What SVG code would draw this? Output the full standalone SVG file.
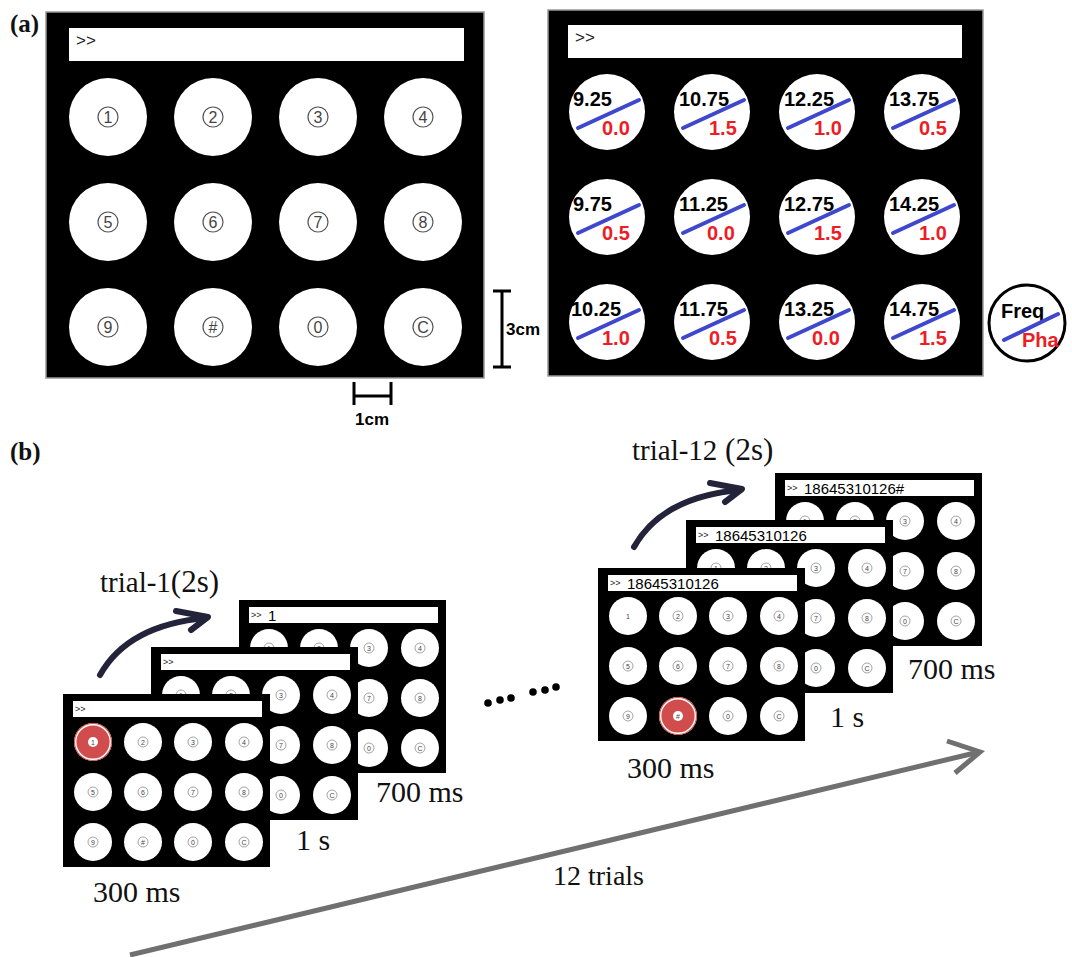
<svg xmlns="http://www.w3.org/2000/svg" xmlns:xlink="http://www.w3.org/1999/xlink" width="1072" height="957" viewBox="0 0 1072 957">
<style>
.panel{fill:#000;stroke:#999;stroke-width:1.5}
.bar{fill:#fff}
.bigc{fill:#fff}
.ring{fill:none;stroke:#555;stroke-width:1.2}
.dig{font-family:"Liberation Sans",Arial,sans-serif;font-size:16px;fill:#444;text-anchor:middle}
.prompt{font-family:"Liberation Sans",Arial,sans-serif;font-size:17px;fill:#222}
.freq{font-family:"Liberation Sans",Arial,sans-serif;font-weight:bold;font-size:20px;fill:#000}
.pha{font-family:"Liberation Sans",Arial,sans-serif;font-weight:bold;font-size:20px;fill:#ee1c24}
.bl{stroke:#3f48cc;stroke-width:4;stroke-linecap:round}
.lab{font-family:"Liberation Serif","Times New Roman",serif;font-weight:bold;font-size:25px;fill:#111}
.scale{stroke:#000;stroke-width:3;fill:none}
.cm{font-family:"Liberation Sans",Arial,sans-serif;font-weight:bold;font-size:17px;fill:#000}
.sl{fill:none;stroke:#666;stroke-width:0.6}
.st{font-family:"Liberation Sans",Arial,sans-serif;font-size:7px;fill:#444;text-anchor:middle}
.sp{font-family:"Liberation Sans",Arial,sans-serif;font-size:9px;fill:#222}
.sd{font-family:"Liberation Sans",Arial,sans-serif;font-size:15px;fill:#000}
.tm{font-family:"Liberation Serif","Times New Roman",serif;font-size:30px;fill:#111}
.tr{font-family:"Liberation Serif","Times New Roman",serif;fill:#111}
.carrow{fill:none;stroke:#23233a;stroke-width:6;stroke-linecap:round;stroke-linejoin:round}
.garrow{fill:none;stroke:#707070;stroke-width:5;stroke-linecap:butt;stroke-linejoin:miter}
</style>
<defs>
<g id="kp">
<rect width="207" height="173" fill="#000"/>
<rect x="10" y="7" width="189" height="16" fill="#fff"/>
<g fill="#fff">
<circle cx="30" cy="48" r="19"/><circle cx="80" cy="48" r="19"/><circle cx="130" cy="48" r="19"/><circle cx="181" cy="48" r="19"/>
<circle cx="30" cy="98" r="19"/><circle cx="80" cy="98" r="19"/><circle cx="130" cy="98" r="19"/><circle cx="181" cy="98" r="19"/>
<circle cx="30" cy="148" r="19"/><circle cx="80" cy="148" r="19"/><circle cx="130" cy="148" r="19"/><circle cx="181" cy="148" r="19"/>
</g>
<g class="sl">
<circle cx="30" cy="48" r="5"/><circle cx="80" cy="48" r="5"/><circle cx="130" cy="48" r="5"/><circle cx="181" cy="48" r="5"/>
<circle cx="30" cy="98" r="5"/><circle cx="80" cy="98" r="5"/><circle cx="130" cy="98" r="5"/><circle cx="181" cy="98" r="5"/>
<circle cx="30" cy="148" r="5"/><circle cx="80" cy="148" r="5"/><circle cx="130" cy="148" r="5"/><circle cx="181" cy="148" r="5"/>
</g>
<g class="st">
<text x="30" y="50.5">1</text><text x="80" y="50.5">2</text><text x="130" y="50.5">3</text><text x="181" y="50.5">4</text>
<text x="30" y="100.5">5</text><text x="80" y="100.5">6</text><text x="130" y="100.5">7</text><text x="181" y="100.5">8</text>
<text x="30" y="150.5">9</text><text x="80" y="150.5">#</text><text x="130" y="150.5">0</text><text x="181" y="150.5">C</text>
</g>
</g>
<g id="curv">
<path class="carrow" d="M0,0 Q28,-50 106,-57"/>
<polyline class="carrow" points="76,-64 108,-58 91,-45"/>
</g>
</defs>

<text class="lab" x="10" y="32">(a)</text>
<text class="lab" x="10" y="460">(b)</text>

<g id="keypad-labels">
<rect class="panel" x="46" y="12" width="438" height="366"/>
<rect class="bar" x="69" y="28" width="395" height="33"/>
<text class="prompt" x="76" y="46">&gt;&gt;</text>
<g class="bigc">
<circle cx="108" cy="117" r="39"/><circle cx="213" cy="117" r="39"/><circle cx="318" cy="117" r="39"/><circle cx="423" cy="117" r="39"/>
<circle cx="108" cy="222" r="39"/><circle cx="213" cy="222" r="39"/><circle cx="318" cy="222" r="39"/><circle cx="423" cy="222" r="39"/>
<circle cx="108" cy="327" r="39"/><circle cx="213" cy="327" r="39"/><circle cx="318" cy="327" r="39"/><circle cx="423" cy="327" r="39"/>
</g>
<g class="ring">
<circle cx="108" cy="117" r="10"/><circle cx="213" cy="117" r="10"/><circle cx="318" cy="117" r="10"/><circle cx="423" cy="117" r="10"/>
<circle cx="108" cy="222" r="10"/><circle cx="213" cy="222" r="10"/><circle cx="318" cy="222" r="10"/><circle cx="423" cy="222" r="10"/>
<circle cx="108" cy="327" r="10"/><circle cx="213" cy="327" r="10"/><circle cx="318" cy="327" r="10"/><circle cx="423" cy="327" r="10"/>
</g>
<g class="dig">
<text x="108" y="123">1</text><text x="213" y="123">2</text><text x="318" y="123">3</text><text x="423" y="123">4</text>
<text x="108" y="228">5</text><text x="213" y="228">6</text><text x="318" y="228">7</text><text x="423" y="228">8</text>
<text x="108" y="333">9</text><text x="213" y="333">#</text><text x="318" y="333">0</text><text x="423" y="333">C</text>
</g>
</g>

<g id="scale-bars">
<path class="scale" d="M502,291 V367 M493,291 H511 M493,367 H511"/>
<text class="cm" x="506" y="335">3cm</text>
<path class="scale" d="M354,396 H391 M354,382 V405 M391,382 V405"/>
<text class="cm" x="372" y="425" text-anchor="middle" font-size="16">1cm</text>
</g>

<g id="keypad-frequencies">
<rect class="panel" x="548" y="10" width="435" height="366"/>
<rect class="bar" x="568" y="25" width="394" height="33"/>
<text class="prompt" x="575" y="43">&gt;&gt;</text>
<g class="bigc">
<circle cx="607" cy="112" r="38"/><circle cx="712" cy="112" r="38"/><circle cx="817" cy="112" r="38"/><circle cx="922" cy="112" r="38"/>
<circle cx="607" cy="217" r="38"/><circle cx="712" cy="217" r="38"/><circle cx="817" cy="217" r="38"/><circle cx="922" cy="217" r="38"/>
<circle cx="607" cy="322" r="38"/><circle cx="712" cy="322" r="38"/><circle cx="817" cy="322" r="38"/><circle cx="922" cy="322" r="38"/>
</g>
<g class="bl">
<line x1="578" y1="128" x2="639" y2="100"/><line x1="683" y1="128" x2="744" y2="100"/><line x1="788" y1="128" x2="849" y2="100"/><line x1="893" y1="128" x2="954" y2="100"/>
<line x1="578" y1="233" x2="639" y2="205"/><line x1="683" y1="233" x2="744" y2="205"/><line x1="788" y1="233" x2="849" y2="205"/><line x1="893" y1="233" x2="954" y2="205"/>
<line x1="578" y1="338" x2="639" y2="310"/><line x1="683" y1="338" x2="744" y2="310"/><line x1="788" y1="338" x2="849" y2="310"/><line x1="893" y1="338" x2="954" y2="310"/>
</g>
<g class="freq">
<text x="573" y="106">9.25</text><text x="679" y="106">10.75</text><text x="784" y="106">12.25</text><text x="889" y="106">13.75</text>
<text x="573" y="211">9.75</text><text x="679" y="211">11.25</text><text x="784" y="211">12.75</text><text x="889" y="211">14.25</text>
<text x="571" y="316">10.25</text><text x="679" y="316">11.75</text><text x="784" y="316">13.25</text><text x="889" y="316">14.75</text>
</g>
<g class="pha">
<text x="602" y="135">0.0</text><text x="709" y="135">1.5</text><text x="814" y="135">1.0</text><text x="919" y="135">0.5</text>
<text x="602" y="240">0.5</text><text x="707" y="240">0.0</text><text x="814" y="240">1.5</text><text x="919" y="240">1.0</text>
<text x="602" y="345">1.0</text><text x="709" y="345">0.5</text><text x="812" y="345">0.0</text><text x="919" y="345">1.5</text>
</g>
</g>

<g id="legend">
<circle cx="1027" cy="323" r="38" fill="#fff" stroke="#000" stroke-width="3"/>
<text class="freq" x="1001" y="318" font-size="19">Freq</text>
<line class="bl" x1="1004" y1="340" x2="1058" y2="314"/>
<text class="pha" x="1022" y="347">Pha</text>
</g>

<g id="trial-1">
<g id="t1-f3" transform="translate(239,600)">
<use xlink:href="#kp"/>
<text class="sp" x="12" y="18">&gt;&gt;</text>
<text class="sd" x="29" y="21">1</text>
</g>
<g id="t1-f2" transform="translate(151,647)">
<use xlink:href="#kp"/>
<text class="sp" x="12" y="18">&gt;&gt;</text>
</g>
<g id="t1-f1" transform="translate(63,694)">
<use xlink:href="#kp"/>
<text class="sp" x="12" y="18">&gt;&gt;</text>
<circle cx="30" cy="48" r="19" fill="#d14c4d"/>
<circle cx="30" cy="48" r="17.3" fill="none" stroke="#fff" stroke-width="1.4"/>
<circle cx="30" cy="48" r="5" fill="#fff"/>
<text class="st" x="30" y="50.5" fill="#d14c4d">1</text>
</g>
<text class="tm" x="93" y="902">300 ms</text>
<text class="tm" x="296" y="850">1 s</text>
<text class="tm" x="376" y="802">700 ms</text>
<text class="tr" x="100" y="592"><tspan font-size="29">trial-1</tspan><tspan font-size="31">(2s)</tspan></text>
</g>

<g id="trial-12">
<g id="t12-f3" transform="translate(775,473)">
<use xlink:href="#kp"/>
<text class="sp" x="12" y="18">&gt;&gt;</text>
<text class="sd" x="29" y="21">18645310126#</text>
</g>
<g id="t12-f2" transform="translate(686,520)">
<use xlink:href="#kp"/>
<text class="sp" x="12" y="18">&gt;&gt;</text>
<text class="sd" x="29" y="21">18645310126</text>
</g>
<g id="t12-f1" transform="translate(598,568)">
<use xlink:href="#kp"/>
<text class="sp" x="12" y="18">&gt;&gt;</text>
<text class="sd" x="29" y="21">18645310126</text>
<circle cx="30" cy="48" r="7" fill="#fff"/>
<text class="st" x="30" y="50.5">1</text>
<circle cx="80" cy="148" r="19" fill="#d14c4d"/>
<circle cx="80" cy="148" r="17.3" fill="none" stroke="#fff" stroke-width="1.4"/>
<circle cx="80" cy="148" r="5" fill="#fff"/>
<text class="st" x="80" y="150.5" fill="#d14c4d">#</text>
</g>
<text class="tm" x="627" y="778">300 ms</text>
<text class="tm" x="830" y="727">1 s</text>
<text class="tm" x="908" y="679">700 ms</text>
<text class="tr" x="632" y="460"><tspan font-size="29">trial-12</tspan><tspan font-size="31"> (2s)</tspan></text>
</g>

<g id="ellipsis" fill="#000">
<circle cx="488" cy="703" r="3.8"/><circle cx="500" cy="700" r="3.8"/><circle cx="511" cy="698" r="3.8"/>
<circle cx="533" cy="692" r="3.8"/><circle cx="545" cy="690" r="3.8"/><circle cx="556" cy="687" r="3.8"/>
</g>

<g id="connectors">
<use xlink:href="#curv" transform="translate(100,675)"/>
<use xlink:href="#curv" transform="translate(634,547)"/>
<line class="garrow" x1="130" y1="955" x2="979" y2="752"/>
<polyline class="garrow" points="947,741 980,752 955,773"/>
<text class="tr" x="553" y="885" font-size="28">12 trials</text>
</g>
</svg>
